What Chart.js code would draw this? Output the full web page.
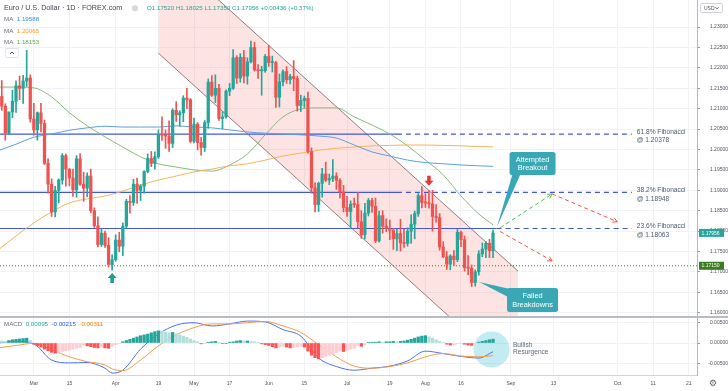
<!DOCTYPE html>
<html lang="en">
<head>
<meta charset="UTF-8">
<title>Euro / U.S. Dollar 1D</title>
<script src="https://cdn.jsdelivr.net/npm/chart.js"></script>
<style>
  html, body { margin: 0; padding: 0; background: #fff; }
  #wrap { position: relative; width: 728px; height: 391px; overflow: hidden; }
  #priceChart { position: absolute; left: 0; top: 0; }
  #macdChart { position: absolute; left: 0; top: 318px; }
  #sep { position: absolute; left: 0; top: 316px; width: 728px; height: 2px; background: #b8bbc3; }
</style>
</head>
<body>
<div id="wrap">
  <canvas id="priceChart" width="728" height="316"></canvas>
  <div id="sep"></div>
  <canvas id="macdChart" width="728" height="73"></canvas>
</div>
<script>
// x = trading-day index, 0 = 15 Feb 2021 ... 139 = 27 Aug 2021; after that the axis runs in calendar days
const tickSlots  = [10, 20, 33, 45, 55, 65, 76, 86, 98, 110, 120, 130, 144, 156, 174, 184, 194];
const tickLabels = ['Mar', '15', 'Apr', '19', 'May', '17', 'Jun', '15', 'Jul', '19', 'Aug', '16', 'Sep', '13', 'Oct', '11', '21'];
const priceTicks = [1.160, 1.165, 1.170, 1.175, 1.180, 1.185, 1.190, 1.195, 1.200, 1.205, 1.210, 1.215, 1.220, 1.225, 1.230];
const macdTicks  = [-0.005, 0, 0.005];

const opens = [
  1.2118, 1.2130, 1.2106, 1.2040, 1.2092, 1.2118, 1.2156, 1.2150, 1.2168, 1.2175,
  1.2075, 1.2048, 1.2090, 1.2064, 1.1966, 1.1915, 1.1847, 1.1900, 1.1925, 1.1985,
  1.1952, 1.1930, 1.1901, 1.1977, 1.1915, 1.1905, 1.1935, 1.1850, 1.1813, 1.1767,
  1.1795, 1.1765, 1.1718, 1.1730, 1.1778, 1.1763, 1.1812, 1.1873, 1.1870, 1.1915,
  1.1900, 1.1910, 1.1946, 1.1978, 1.1966, 1.1982, 1.2037, 1.2035, 1.2033, 1.2015,
  1.2096, 1.2085, 1.2090, 1.2126, 1.2122, 1.2020, 1.2062, 1.2017, 1.2005, 1.2066,
  1.2165, 1.2133, 1.2150, 1.2076, 1.2080, 1.2143, 1.2150, 1.2225, 1.2175, 1.2226,
  1.2180, 1.2215, 1.2250, 1.2195, 1.2193, 1.2193, 1.2228, 1.2213, 1.2213, 1.2128,
  1.2166, 1.2191, 1.2171, 1.2179, 1.2174, 1.2108, 1.2120, 1.2125, 1.1995, 1.1906,
  1.1865, 1.1917, 1.1940, 1.1925, 1.1929, 1.1935, 1.1924, 1.1896, 1.1858, 1.1848,
  1.1866, 1.1865, 1.1823, 1.1791, 1.1844, 1.1875, 1.1861, 1.1776, 1.1838, 1.1812,
  1.1806, 1.1802, 1.1781, 1.1794, 1.1771, 1.1770, 1.1800, 1.1817, 1.1843, 1.1887,
  1.1870, 1.1869, 1.1867, 1.1836, 1.1833, 1.1761, 1.1737, 1.1719, 1.1739, 1.1730,
  1.1797, 1.1779, 1.1710, 1.1709, 1.1674, 1.1700, 1.1744, 1.1756, 1.1770, 1.17520
];
const highs = [
  1.2144, 1.2169, 1.2112, 1.2092, 1.2145, 1.2168, 1.2180, 1.2182, 1.2243, 1.2183,
  1.2113, 1.2092, 1.2113, 1.2072, 1.1977, 1.1928, 1.1910, 1.1928, 1.1990, 1.1989,
  1.1953, 1.1952, 1.1985, 1.1990, 1.1944, 1.1943, 1.1952, 1.1857, 1.1835, 1.1806,
  1.1800, 1.1784, 1.1742, 1.1791, 1.1797, 1.1820, 1.1878, 1.1887, 1.1927, 1.1930,
  1.1914, 1.1948, 1.1989, 1.1995, 1.1994, 1.2048, 1.2080, 1.2048, 1.2070, 1.2100,
  1.2117, 1.2095, 1.2132, 1.2150, 1.2125, 1.2077, 1.2066, 1.2030, 1.2071, 1.2173,
  1.2181, 1.2183, 1.2160, 1.2093, 1.2146, 1.2162, 1.2245, 1.2230, 1.2235, 1.2243,
  1.2225, 1.2266, 1.2263, 1.2208, 1.2204, 1.2233, 1.2255, 1.2229, 1.2216, 1.2185,
  1.2195, 1.2203, 1.2184, 1.2218, 1.2180, 1.2133, 1.2131, 1.2141, 1.2004, 1.1918,
  1.1920, 1.1954, 1.1969, 1.1940, 1.1975, 1.1943, 1.1929, 1.1912, 1.1885, 1.1874,
  1.1881, 1.1895, 1.1850, 1.1868, 1.1880, 1.1880, 1.1881, 1.1849, 1.1850, 1.1830,
  1.1827, 1.1806, 1.1805, 1.1829, 1.1805, 1.1808, 1.1840, 1.1849, 1.1892, 1.1909,
  1.1892, 1.1899, 1.1900, 1.1865, 1.1843, 1.1774, 1.1750, 1.1742, 1.1752, 1.1804,
  1.1800, 1.1788, 1.1740, 1.1717, 1.1705, 1.1752, 1.1771, 1.1774, 1.1780, 1.18025
];
const lows = [
  1.2108, 1.2096, 1.2023, 1.2037, 1.2078, 1.2091, 1.2122, 1.2113, 1.2155, 1.2067,
  1.2035, 1.2023, 1.2043, 1.1963, 1.1893, 1.1836, 1.1835, 1.1869, 1.1915, 1.1910,
  1.1911, 1.1885, 1.1883, 1.1912, 1.1873, 1.1884, 1.1845, 1.1809, 1.1761, 1.1762,
  1.1760, 1.1712, 1.1704, 1.1726, 1.1749, 1.1740, 1.1807, 1.1844, 1.1863, 1.1868,
  1.1875, 1.1893, 1.1943, 1.1958, 1.1952, 1.1978, 1.2022, 1.2003, 1.1995, 1.2005,
  1.2069, 1.2057, 1.2068, 1.2100, 1.2017, 1.2016, 1.1999, 1.1986, 1.1995, 1.2052,
  1.2130, 1.2115, 1.2071, 1.2051, 1.2077, 1.2132, 1.2147, 1.2162, 1.2165, 1.2163,
  1.2160, 1.2212, 1.2192, 1.2174, 1.2133, 1.2189, 1.2204, 1.2190, 1.2103, 1.2104,
  1.2156, 1.2162, 1.2161, 1.2144, 1.2094, 1.2093, 1.2103, 1.1991, 1.1893, 1.1847,
  1.1848, 1.1883, 1.1921, 1.1914, 1.1921, 1.1902, 1.1881, 1.1847, 1.1836, 1.1807,
  1.1858, 1.1808, 1.1782, 1.1781, 1.1837, 1.1846, 1.1772, 1.1773, 1.1795, 1.1799,
  1.1779, 1.1755, 1.1752, 1.1751, 1.1760, 1.1763, 1.1770, 1.1781, 1.1836, 1.1857,
  1.1858, 1.1856, 1.1800, 1.1822, 1.1753, 1.1735, 1.1706, 1.1705, 1.1716, 1.1725,
  1.1762, 1.1702, 1.1693, 1.1664, 1.1665, 1.1692, 1.1737, 1.1735, 1.1735, 1.17350
];
const closes = [
  1.2130, 1.2106, 1.2040, 1.2092, 1.2118, 1.2156, 1.2150, 1.2168, 1.2175, 1.2075,
  1.2048, 1.2090, 1.2064, 1.1966, 1.1915, 1.1847, 1.1900, 1.1925, 1.1985, 1.1952,
  1.1930, 1.1901, 1.1977, 1.1915, 1.1905, 1.1935, 1.1850, 1.1813, 1.1767, 1.1795,
  1.1765, 1.1718, 1.1730, 1.1778, 1.1763, 1.1812, 1.1873, 1.1870, 1.1915, 1.1900,
  1.1910, 1.1946, 1.1978, 1.1966, 1.1982, 1.2037, 1.2035, 1.2033, 1.2015, 1.2096,
  1.2085, 1.2090, 1.2126, 1.2122, 1.2020, 1.2062, 1.2017, 1.2005, 1.2066, 1.2165,
  1.2133, 1.2150, 1.2076, 1.2080, 1.2143, 1.2150, 1.2225, 1.2175, 1.2226, 1.2180,
  1.2215, 1.2250, 1.2195, 1.2193, 1.2193, 1.2228, 1.2213, 1.2213, 1.2128, 1.2166,
  1.2191, 1.2171, 1.2179, 1.2174, 1.2108, 1.2120, 1.2125, 1.1995, 1.1906, 1.1865,
  1.1917, 1.1940, 1.1925, 1.1929, 1.1935, 1.1924, 1.1896, 1.1858, 1.1848, 1.1866,
  1.1865, 1.1823, 1.1791, 1.1844, 1.1875, 1.1861, 1.1776, 1.1838, 1.1812, 1.1806,
  1.1802, 1.1781, 1.1794, 1.1771, 1.1770, 1.1800, 1.1817, 1.1843, 1.1887, 1.1870,
  1.1869, 1.1867, 1.1836, 1.1833, 1.1761, 1.1737, 1.1719, 1.1739, 1.1730, 1.1797,
  1.1779, 1.1710, 1.1709, 1.1674, 1.1700, 1.1744, 1.1756, 1.1770, 1.1752, 1.17956
];

// moving averages, every 5 bars
const maSlots = [0, 5, 10, 15, 20, 25, 30, 35, 40, 45, 50, 55, 60, 65, 70, 75, 80, 85, 90, 95, 100, 105, 110, 115, 120, 125, 130, 135, 139];
const ma100 = [1.1997, 1.2013, 1.2030, 1.2038, 1.2047, 1.2053, 1.2057, 1.2055, 1.2055, 1.2055, 1.2058, 1.2055, 1.2053, 1.2048, 1.2043,
               1.2040, 1.2038, 1.2036, 1.2033, 1.2028, 1.2011, 1.1994, 1.1984, 1.1974, 1.1968, 1.1965, 1.1962, 1.1960, 1.19588];
const ma200 = [1.1754, 1.1788, 1.1820, 1.1847, 1.1869, 1.1879, 1.1886, 1.1898, 1.1913, 1.1925, 1.1935, 1.1945, 1.1952, 1.1960, 1.1965,
               1.1974, 1.1984, 1.1991, 1.1998, 1.2003, 1.2006, 1.2009, 1.2010, 1.2011, 1.2011, 1.2010, 1.2009, 1.2007, 1.20065];
const ma50  = [1.2153, 1.2153, 1.2151, 1.2129, 1.2090, 1.2058, 1.2031, 1.2006, 1.1982, 1.1965, 1.1957, 1.1950, 1.1947, 1.1962, 1.1989,
               1.2036, 1.2080, 1.2099, 1.2102, 1.2102, 1.2080, 1.2060, 1.2038, 1.2009, 1.1974, 1.1938, 1.1886, 1.1842, 1.18153];

// MACD pane
const macdSlots  = [0, 5, 10, 15, 20, 25, 30, 32, 35, 40, 45, 50, 55, 60, 65, 70, 75, 80, 85, 90, 95, 100, 105, 110, 115, 120, 125, 130, 135, 139];
const macdLine   = [0.0000, 0.0004, -0.0002, -0.0042, -0.0049, -0.0048, -0.0062, -0.0074, -0.0067, -0.0015, 0.0022, 0.0044, 0.0050, 0.0042, 0.0047,
                    0.0054, 0.0052, 0.0033, 0.0017, -0.0037, -0.0058, -0.0067, -0.0062, -0.0057, -0.0044, -0.0020, -0.0026, -0.0033, -0.0037, -0.00215];
const signalLine = [-0.0012, -0.0006, -0.0001, -0.0017, -0.0034, -0.0046, -0.0054, -0.0064, -0.0068, -0.0042, -0.0007, 0.0020, 0.0038, 0.0047, 0.0047,
                    0.0050, 0.0053, 0.0042, 0.0026, -0.0004, -0.0034, -0.0057, -0.0062, -0.0058, -0.0049, -0.0034, -0.0026, -0.0032, -0.0034, -0.00311];
const histogram = [
  0.0006, 0.0005, 0.0004, 0.0006, 0.0008, 0.0009, 0.0010, 0.0011, 0.0012, 0.0006,
  -0.0003, -0.0007, -0.0010, -0.0015, -0.0019, -0.0023, -0.0025, -0.0023, -0.0021, -0.0019,
  -0.0017, -0.0015, -0.0013, -0.0011, -0.0005, -0.0007, -0.0009, -0.0011, -0.0012, -0.0010,
  -0.0012, -0.0013, -0.0008, -0.0004, -0.0001, 0.0003, 0.0006, 0.0009, 0.0012, 0.0015,
  0.0018, 0.0020, 0.0022, 0.0025, 0.0028, 0.0030, 0.0029, 0.0027, 0.0025, 0.0026,
  0.0023, 0.0020, 0.0017, 0.0014, 0.0010, 0.0006, 0.0003, -0.0002, -0.0001, 0.0002,
  0.0003, 0.0004, 0.0002, -0.0001, -0.0001, 0.0002, 0.0003, 0.0005, 0.0006, 0.0005,
  0.0005, 0.0004, 0.0003, 0.0001, -0.0002, -0.0004, -0.0006, -0.0009, -0.0012, -0.0010,
  -0.0008, -0.0010, -0.0012, -0.0011, -0.0009, -0.0008, -0.0010, -0.0020, -0.0030, -0.0036,
  -0.0039, -0.0036, -0.0033, -0.0030, -0.0027, -0.0024, -0.0020, -0.0021, -0.0018, -0.0015,
  -0.0013, -0.0006, -0.0008, -0.0004, 0.0001, 0.0002, 0.0002, 0.0003, 0.0002, 0.0003,
  0.0003, 0.0004, 0.0003, 0.0004, 0.0005, 0.0007, 0.0009, 0.0012, 0.0015, 0.0017,
  0.0018, 0.0015, 0.0012, 0.0008, 0.0004, 0.0001, -0.0003, -0.0005, -0.0004, -0.0002,
  -0.0001, -0.0003, -0.0005, -0.0006, -0.0002, 0.0002, 0.0004, 0.0006, 0.0008, 0.00095
];

// drawings on the chart, in (bar index, price)
const fibLevels   = [1.20378, 1.18948, 1.18063];
const fibNames    = ['61.8% Fibonacci', '38.2% Fibonacci', '23.6% Fibonacci'];
const fibSolidEnd = [112, 112, 140];
const fibDashEnd  = 178;
const fibLabelAt  = 179.4;
const supportLevel = 1.1715;
const channelSlots = [45, 146];
const channelLower = [1.2236, 1.1438];
const channelUpper = [1.2500, 1.1702];
const projUp    = [[141, 1.1808], [155.6, 1.1891]];
const projDownA = [[155.6, 1.1891], [173.9, 1.1823]];
const projDownB = [[141, 1.1799], [155.6, 1.1727]];
const upArrowAt   = [32, 1.1697];
const downArrowAt = [121, 1.1911];
const callouts = [
  { lines: ['Attempted', 'Breakout'],  at: [150.1, 1.19657], tip: [140.1, 1.1810], w: 46, h: 23, side: 'bottom' },
  { lines: ['Failed', 'Breakdowns'],   at: [150.1, 1.16311], tip: [135.1, 1.1675], w: 51, h: 24, side: 'left' }
];
const macdCircleAt = [138.6, -0.0016];
const macdNoteAt   = [144.6, -0.0005];
const macdNote     = ['Bullish', 'Resurgence'];

const X_MIN = 0.5, X_MAX = 196.3;
const UP = '#26a69a', DOWN = '#ef5350', GRID = '#f0f2f6';
const FIB = '#4257dc', CALLOUT = '#39a8b4';
const FONT = "'Liberation Sans', Arial, sans-serif";

Chart.defaults.font.family = FONT;
Chart.defaults.animation = false;
Chart.defaults.events = [];
Chart.defaults.plugins.legend.display = false;
Chart.defaults.plugins.tooltip.enabled = false;

const last = closes.length - 1;
const candleColor = ctx => closes[ctx.dataIndex] >= opens[ctx.dataIndex] ? UP : DOWN;

function line(points, color, extra) {
  return Object.assign({
    type: 'line', data: points.map(([x, y]) => ({ x, y })),
    borderColor: color, borderWidth: 1, pointRadius: 0, fill: false, tension: 0
  }, extra || {});
}
function smooth(slots, values, color, width) {
  return line(slots.map((s, i) => [s, values[i]]), color, { borderWidth: width, cubicInterpolationMode: 'monotone', order: 10 });
}

function xAxis(withLabels) {
  return {
    type: 'linear', min: X_MIN, max: X_MAX, offset: false,
    afterBuildTicks: s => { s.ticks = tickSlots.map(v => ({ value: v })); },
    afterFit: s => { s.height = withLabels ? 16 : 0; s.paddingLeft = 0; s.paddingRight = 0; },
    ticks: { display: withLabels, autoSkip: false, maxRotation: 0, padding: 6, color: '#50535e',
             font: { size: 5 }, callback: v => tickLabels[tickSlots.indexOf(v)] },
    grid: { color: GRID, drawTicks: false, offset: false },
    border: { display: withLabels, color: '#d1d4dc' }
  };
}
function yAxis(min, max, ticks) {
  return {
    position: 'right', min, max,
    afterBuildTicks: s => { s.ticks = ticks.map(v => ({ value: v })); },
    afterFit: s => { s.width = 31; s.paddingTop = 0; s.paddingBottom = 0; },
    ticks: { callback: v => v.toFixed(5), font: { size: 5 }, color: '#50535e', padding: 3, crossAlign: 'far' },
    grid: { color: GRID, tickLength: 3, tickColor: '#9598a1' },
    border: { display: true, color: '#b2b5be' }
  };
}

function rrect(ctx, x, y, w, h, r) {
  ctx.beginPath();
  ctx.moveTo(x + r, y);
  ctx.arcTo(x + w, y, x + w, y + h, r);
  ctx.arcTo(x + w, y + h, x, y + h, r);
  ctx.arcTo(x, y + h, x, y, r);
  ctx.arcTo(x, y, x + w, y, r);
  ctx.closePath();
}
function textRun(ctx, x, y, parts) {
  parts.forEach(([t, c]) => { ctx.fillStyle = c; ctx.fillText(t, x, y); x += ctx.measureText(t).width; });
}
function arrowHead(ctx, seg, xs, ys, color) {
  const x1 = xs.getPixelForValue(seg[0][0]), y1 = ys.getPixelForValue(seg[0][1]);
  const x2 = xs.getPixelForValue(seg[1][0]), y2 = ys.getPixelForValue(seg[1][1]);
  const a = Math.atan2(y2 - y1, x2 - x1), L = 5;
  ctx.strokeStyle = color; ctx.lineWidth = 1; ctx.setLineDash([]);
  ctx.beginPath();
  ctx.moveTo(x2 - L * Math.cos(a - 0.5), y2 - L * Math.sin(a - 0.5));
  ctx.lineTo(x2, y2);
  ctx.lineTo(x2 - L * Math.cos(a + 0.5), y2 - L * Math.sin(a + 0.5));
  ctx.stroke();
}
function blockArrow(ctx, x, y, dir, color) {
  // y is the tip; dir -1 = pointing up, +1 = pointing down
  ctx.fillStyle = color;
  ctx.beginPath();
  ctx.moveTo(x, y);
  ctx.lineTo(x + 4.5, y - dir * 5);
  ctx.lineTo(x + 1.8, y - dir * 5);
  ctx.lineTo(x + 1.8, y - dir * 10);
  ctx.lineTo(x - 1.8, y - dir * 10);
  ctx.lineTo(x - 1.8, y - dir * 5);
  ctx.lineTo(x - 4.5, y - dir * 5);
  ctx.closePath();
  ctx.fill();
}
function axisTag(ctx, y, text, bg) {
  ctx.fillStyle = bg;
  ctx.fillRect(699, y - 4, 25, 8);
  ctx.fillStyle = '#fff';
  ctx.font = '5px ' + FONT;
  ctx.textAlign = 'left';
  ctx.textBaseline = 'middle';
  ctx.fillText(text, 701.5, y + 0.3);
}

const priceDrawings = {
  id: 'priceDrawings',
  afterDatasetsDraw(chart) {
    const { ctx, scales: { x: xs, y: ys } } = chart;
    ctx.save();
    arrowHead(ctx, projUp, xs, ys, '#5cb85c');
    arrowHead(ctx, projDownA, xs, ys, '#f05545');
    arrowHead(ctx, projDownB, xs, ys, '#f05545');

    blockArrow(ctx, xs.getPixelForValue(upArrowAt[0]), ys.getPixelForValue(upArrowAt[1]), -1, '#1f9e8c');
    blockArrow(ctx, xs.getPixelForValue(downArrowAt[0]), ys.getPixelForValue(downArrowAt[1]), 1, '#e53935');

    ctx.font = '6.6px ' + FONT;
    ctx.textAlign = 'left';
    ctx.textBaseline = 'middle';
    ctx.fillStyle = '#4e5a6e';
    fibLevels.forEach((lv, i) => {
      const x = xs.getPixelForValue(fibLabelAt), y = ys.getPixelForValue(lv);
      ctx.fillText(fibNames[i], x, y - 2);
      ctx.fillText('@ ' + lv.toFixed(5), x, y + 6.5);
    });

    callouts.forEach(c => {
      const cx = xs.getPixelForValue(c.at[0]), cy = ys.getPixelForValue(c.at[1]);
      const tx = xs.getPixelForValue(c.tip[0]), ty = ys.getPixelForValue(c.tip[1]);
      const bx = cx - c.w / 2, by = cy - c.h / 2;
      ctx.fillStyle = CALLOUT;
      ctx.beginPath();
      if (c.side === 'bottom') {
        ctx.moveTo(bx + 3, by + c.h - 1); ctx.lineTo(tx, ty); ctx.lineTo(bx + 11, by + c.h - 1);
      } else {
        ctx.moveTo(bx + 3, by + 1); ctx.lineTo(tx, ty); ctx.lineTo(bx + 1, by + 9);
      }
      ctx.closePath();
      ctx.fill();
      rrect(ctx, bx, by, c.w, c.h, 2.5);
      ctx.fill();
      ctx.fillStyle = '#fff';
      ctx.font = '7.4px ' + FONT;
      ctx.textAlign = 'center';
      ctx.fillText(c.lines[0], cx, cy - 4);
      ctx.fillText(c.lines[1], cx, cy + 4.5);
    });
    ctx.restore();
  },
  afterDraw(chart) {
    const { ctx, scales: { y: ys } } = chart;
    ctx.save();
    axisTag(ctx, ys.getPixelForValue(closes[last]), closes[last].toFixed(5), UP);
    axisTag(ctx, ys.getPixelForValue(supportLevel), supportLevel.toFixed(5), '#3a7d22');

    // currency box on the price scale
    ctx.fillStyle = '#fff';
    rrect(ctx, 700.5, 3.5, 22, 9, 1.5);
    ctx.fill();
    ctx.strokeStyle = '#d1d4dc'; ctx.lineWidth = 1; ctx.stroke();
    ctx.fillStyle = '#50535e';
    ctx.font = '5px ' + FONT; ctx.textBaseline = 'middle'; ctx.textAlign = 'left';
    ctx.fillText('USD', 704, 8.3);
    ctx.strokeStyle = '#50535e';
    ctx.beginPath(); ctx.moveTo(715.5, 7.3); ctx.lineTo(717, 8.8); ctx.lineTo(718.5, 7.3); ctx.stroke();

    // legend
    ctx.font = '7.2px ' + FONT;
    ctx.fillStyle = '#434651';
    ctx.fillText('Euro / U.S. Dollar · 1D · FOREX.com', 4, 8.5);
    ctx.fillStyle = '#d6d8dd';
    ctx.beginPath(); ctx.arc(135, 8.3, 3, 0, Math.PI * 2); ctx.fill();
    const chg = closes[last] - closes[last - 1];
    const pct = chg / closes[last - 1] * 100;
    ctx.font = '6.2px ' + FONT;
    ctx.fillStyle = UP;
    ctx.fillText('O' + opens[last].toFixed(5) + ' H' + highs[last].toFixed(5) + ' L' + lows[last].toFixed(5) +
                 ' C' + closes[last].toFixed(5) + ' +' + chg.toFixed(5) + ' (+' + pct.toFixed(2) + '%)', 147, 8.5);
    const maRows = [[ma100, '#2f8ee5'], [ma200, '#f59f2c'], [ma50, '#5faa55']];
    maRows.forEach(([arr, col], i) => {
      textRun(ctx, 4, 19.5 + i * 11.3, [['MA  ', '#6a6d78'], [arr[arr.length - 1].toFixed(5), col]]);
    });
    // collapse button
    ctx.fillStyle = '#fff';
    rrect(ctx, 5.5, 48.5, 13, 9, 1.5); ctx.fill();
    ctx.strokeStyle = '#e0e3eb'; ctx.stroke();
    ctx.strokeStyle = '#434651';
    ctx.beginPath(); ctx.moveTo(10, 54); ctx.lineTo(12, 52); ctx.lineTo(14, 54); ctx.stroke();
    ctx.restore();
  }
};

new Chart(document.getElementById('priceChart'), {
  type: 'bar',
  data: {
    datasets: [
      line(channelSlots.map((s, i) => [s, channelLower[i]]), 'rgba(125,105,105,0.85)', { order: 20 }),
      line(channelSlots.map((s, i) => [s, channelUpper[i]]), 'rgba(125,105,105,0.85)',
           { order: 19, fill: '-1', backgroundColor: 'rgba(240,90,80,0.16)' }),
      ...fibLevels.map((lv, i) => line([[X_MIN, lv], [fibSolidEnd[i], lv]], FIB, { borderWidth: 1.2, order: 15 })),
      ...fibLevels.map((lv, i) => line([[fibSolidEnd[i], lv], [fibDashEnd, lv]], FIB, { borderWidth: 1.2, borderDash: [5, 4], order: 15 })),
      line([[X_MIN, supportLevel], [X_MAX, supportLevel]], '#3d7a2a', { borderDash: [1, 2], order: 15 }),
      smooth(maSlots, ma100, '#5b9fe3', 1),
      smooth(maSlots, ma200, '#f5b45c', 1),
      smooth(maSlots, ma50, '#8ab97a', 1),
      { type: 'bar', data: closes.map((c, i) => ({ x: i, y: [lows[i], highs[i]] })),
        backgroundColor: candleColor, barThickness: 1, grouped: false, order: 2 },
      { type: 'bar', data: closes.map((c, i) => ({ x: i, y: [opens[i], c] })),
        backgroundColor: candleColor, barThickness: 2.6, minBarLength: 1, grouped: false, order: 1 },
      line(projUp, '#5cb85c', { borderDash: [4, 3], order: 0 }),
      line(projDownA, '#f05545', { borderDash: [4, 3], order: 0 }),
      line(projDownB, '#f05545', { borderDash: [4, 3], order: 0 })
    ]
  },
  options: {
    responsive: false,
    devicePixelRatio: 1,
    layout: { padding: 0 },
    scales: {
      x: xAxis(false),
      y: yAxis(1.15919, 1.23664, priceTicks)
    }
  },
  plugins: [priceDrawings]
});

const histColor = ctx => {
  const i = ctx.dataIndex, v = histogram[i], prev = i > 0 ? histogram[i - 1] : v;
  if (v >= 0) return v >= prev ? '#26a69a' : '#b2dfdb';
  return v <= prev ? '#ff5252' : '#ffcdd2';
};

const macdDrawings = {
  id: 'macdDrawings',
  beforeDatasetsDraw(chart) {
    const { ctx, scales: { x: xs, y: ys } } = chart;
    ctx.save();
    ctx.fillStyle = 'rgba(80,200,215,0.35)';
    ctx.beginPath();
    ctx.arc(xs.getPixelForValue(macdCircleAt[0]), ys.getPixelForValue(macdCircleAt[1]), 18, 0, Math.PI * 2);
    ctx.fill();
    ctx.restore();
  },
  afterDraw(chart) {
    const { ctx, scales: { x: xs, y: ys } } = chart;
    ctx.save();
    ctx.textAlign = 'left';
    ctx.textBaseline = 'middle';
    ctx.font = '6.6px ' + FONT;
    ctx.fillStyle = '#5a6878';
    const nx = xs.getPixelForValue(macdNoteAt[0]), ny = ys.getPixelForValue(macdNoteAt[1]);
    ctx.fillText(macdNote[0], nx, ny);
    ctx.fillText(macdNote[1], nx, ny + 7.5);

    ctx.font = '6.2px ' + FONT;
    textRun(ctx, 4, 6.5, [
      ['MACD  ', '#6a6d78'],
      [histogram[last].toFixed(5) + '  ', '#26a69a'],
      [macdLine[macdLine.length - 1].toFixed(5) + '  ', '#2962ff'],
      [signalLine[signalLine.length - 1].toFixed(5), '#f57c00']
    ]);

    ctx.font = '9px DejaVu Sans';
    ctx.textAlign = 'center';
    ctx.fillStyle = '#5d606b';
    ctx.fillText('\u2699', 713, 66);
    ctx.restore();
  }
};

new Chart(document.getElementById('macdChart'), {
  type: 'bar',
  data: {
    datasets: [
      { type: 'bar', data: histogram.map((v, i) => ({ x: i, y: v })), backgroundColor: histColor,
        barThickness: 2.6, grouped: false, order: 3 },
      smooth(macdSlots, signalLine, '#f39c4a', 1),
      smooth(macdSlots, macdLine, '#4a72f0', 1)
    ]
  },
  options: {
    responsive: false,
    devicePixelRatio: 1,
    layout: { padding: 0 },
    scales: {
      x: xAxis(true),
      y: yAxis(-0.00788, 0.00616, macdTicks)
    }
  },
  plugins: [macdDrawings]
});
</script>
</body>
</html>
